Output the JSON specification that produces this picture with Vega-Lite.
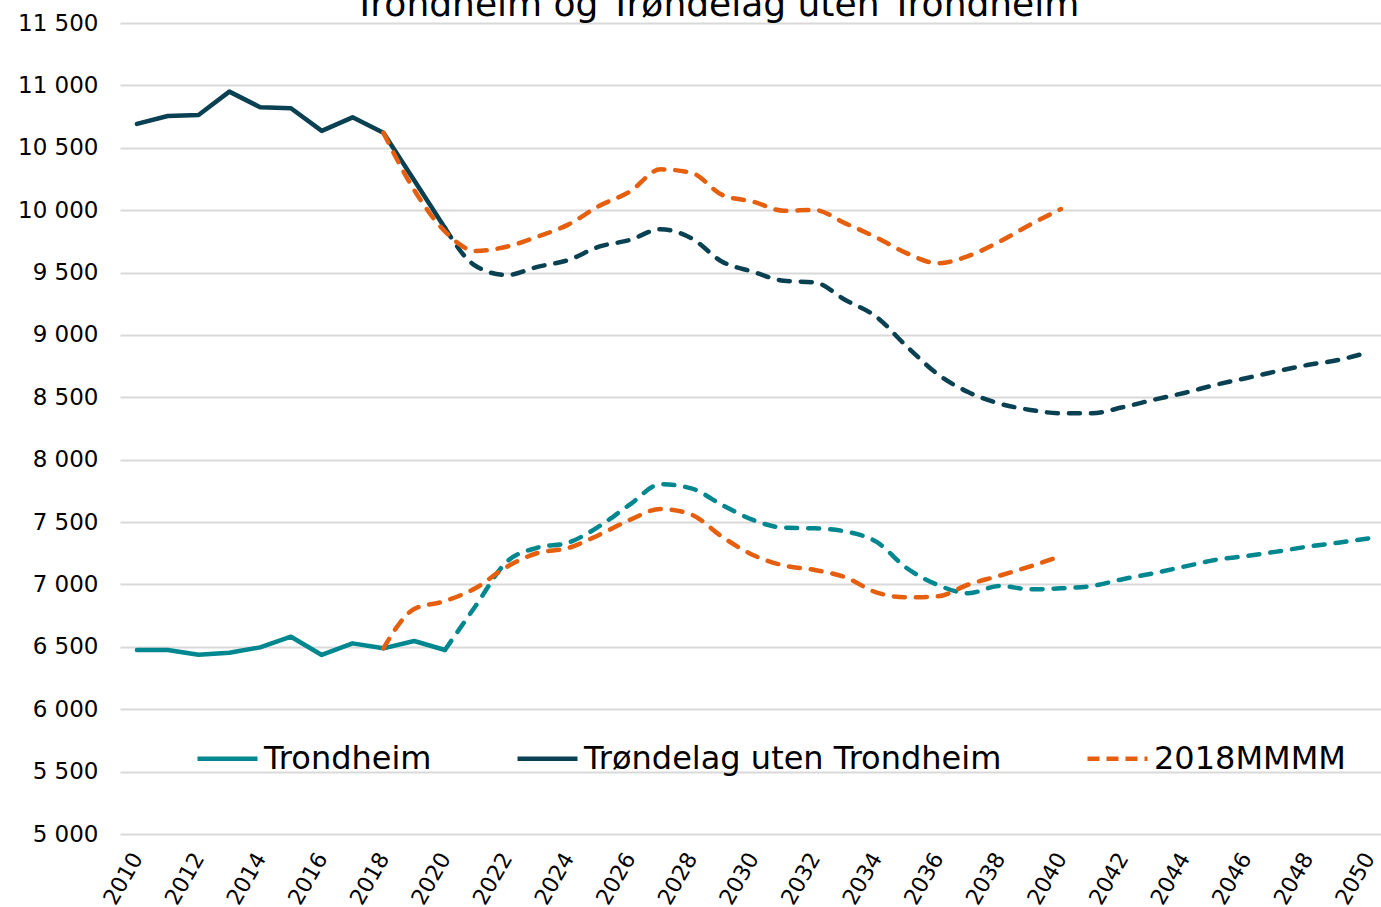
{
  "$schema": "https://vega.github.io/schema/vega-lite/v6.json",
  "width": 1261,
  "height": 811,
  "autosize": {"type": "none"},
  "padding": {"left": 120, "top": 23, "right": 0, "bottom": 73},
  "background": "white",
  "title": {"text": "Trondheim og Trøndelag uten Trondheim", "font": "DejaVu Sans", "fontSize": 36, "fontWeight": "normal", "color": "#000000", "anchor": "middle", "dx": -34, "offset": -40, "baseline": "alphabetic"},
  "config": {"view": {"stroke": null}},
  "datasets": {
    "rows": [
      {"year": 2010, "value": 6475, "serie": "Trondheim", "line": "T-hist", "type": "hist"},
      {"year": 2011, "value": 6475, "serie": "Trondheim", "line": "T-hist", "type": "hist"},
      {"year": 2012, "value": 6437, "serie": "Trondheim", "line": "T-hist", "type": "hist"},
      {"year": 2013, "value": 6453, "serie": "Trondheim", "line": "T-hist", "type": "hist"},
      {"year": 2014, "value": 6496, "serie": "Trondheim", "line": "T-hist", "type": "hist"},
      {"year": 2015, "value": 6581, "serie": "Trondheim", "line": "T-hist", "type": "hist"},
      {"year": 2016, "value": 6435, "serie": "Trondheim", "line": "T-hist", "type": "hist"},
      {"year": 2017, "value": 6528, "serie": "Trondheim", "line": "T-hist", "type": "hist"},
      {"year": 2018, "value": 6488, "serie": "Trondheim", "line": "T-hist", "type": "hist"},
      {"year": 2019, "value": 6547, "serie": "Trondheim", "line": "T-hist", "type": "hist"},
      {"year": 2020, "value": 6475, "serie": "Trondheim", "line": "T-hist", "type": "hist"},
      {"year": 2020, "value": 6475, "serie": "Trondheim", "line": "T-proj", "type": "proj"},
      {"year": 2021, "value": 6830, "serie": "Trondheim", "line": "T-proj", "type": "proj"},
      {"year": 2022, "value": 7180, "serie": "Trondheim", "line": "T-proj", "type": "proj"},
      {"year": 2023, "value": 7295, "serie": "Trondheim", "line": "T-proj", "type": "proj"},
      {"year": 2024, "value": 7335, "serie": "Trondheim", "line": "T-proj", "type": "proj"},
      {"year": 2025, "value": 7465, "serie": "Trondheim", "line": "T-proj", "type": "proj"},
      {"year": 2026, "value": 7640, "serie": "Trondheim", "line": "T-proj", "type": "proj"},
      {"year": 2027, "value": 7803, "serie": "Trondheim", "line": "T-proj", "type": "proj"},
      {"year": 2028, "value": 7770, "serie": "Trondheim", "line": "T-proj", "type": "proj"},
      {"year": 2029, "value": 7637, "serie": "Trondheim", "line": "T-proj", "type": "proj"},
      {"year": 2030, "value": 7517, "serie": "Trondheim", "line": "T-proj", "type": "proj"},
      {"year": 2031, "value": 7455, "serie": "Trondheim", "line": "T-proj", "type": "proj"},
      {"year": 2032, "value": 7450, "serie": "Trondheim", "line": "T-proj", "type": "proj"},
      {"year": 2033, "value": 7425, "serie": "Trondheim", "line": "T-proj", "type": "proj"},
      {"year": 2034, "value": 7343, "serie": "Trondheim", "line": "T-proj", "type": "proj"},
      {"year": 2035, "value": 7130, "serie": "Trondheim", "line": "T-proj", "type": "proj"},
      {"year": 2036, "value": 6996, "serie": "Trondheim", "line": "T-proj", "type": "proj"},
      {"year": 2037, "value": 6930, "serie": "Trondheim", "line": "T-proj", "type": "proj"},
      {"year": 2038, "value": 6988, "serie": "Trondheim", "line": "T-proj", "type": "proj"},
      {"year": 2039, "value": 6961, "serie": "Trondheim", "line": "T-proj", "type": "proj"},
      {"year": 2040, "value": 6969, "serie": "Trondheim", "line": "T-proj", "type": "proj"},
      {"year": 2041, "value": 6988, "serie": "Trondheim", "line": "T-proj", "type": "proj"},
      {"year": 2042, "value": 7042, "serie": "Trondheim", "line": "T-proj", "type": "proj"},
      {"year": 2043, "value": 7090, "serie": "Trondheim", "line": "T-proj", "type": "proj"},
      {"year": 2044, "value": 7143, "serie": "Trondheim", "line": "T-proj", "type": "proj"},
      {"year": 2045, "value": 7196, "serie": "Trondheim", "line": "T-proj", "type": "proj"},
      {"year": 2046, "value": 7228, "serie": "Trondheim", "line": "T-proj", "type": "proj"},
      {"year": 2047, "value": 7263, "serie": "Trondheim", "line": "T-proj", "type": "proj"},
      {"year": 2048, "value": 7303, "serie": "Trondheim", "line": "T-proj", "type": "proj"},
      {"year": 2049, "value": 7335, "serie": "Trondheim", "line": "T-proj", "type": "proj"},
      {"year": 2050, "value": 7370, "serie": "Trondheim", "line": "T-proj", "type": "proj"},
      {"year": 2010, "value": 10691, "serie": "Trøndelag uten Trondheim", "line": "R-hist", "type": "hist"},
      {"year": 2011, "value": 10755, "serie": "Trøndelag uten Trondheim", "line": "R-hist", "type": "hist"},
      {"year": 2012, "value": 10763, "serie": "Trøndelag uten Trondheim", "line": "R-hist", "type": "hist"},
      {"year": 2013, "value": 10950, "serie": "Trøndelag uten Trondheim", "line": "R-hist", "type": "hist"},
      {"year": 2014, "value": 10825, "serie": "Trøndelag uten Trondheim", "line": "R-hist", "type": "hist"},
      {"year": 2015, "value": 10817, "serie": "Trøndelag uten Trondheim", "line": "R-hist", "type": "hist"},
      {"year": 2016, "value": 10635, "serie": "Trøndelag uten Trondheim", "line": "R-hist", "type": "hist"},
      {"year": 2017, "value": 10744, "serie": "Trøndelag uten Trondheim", "line": "R-hist", "type": "hist"},
      {"year": 2018, "value": 10621, "serie": "Trøndelag uten Trondheim", "line": "R-hist", "type": "hist"},
      {"year": 2019, "value": 10240, "serie": "Trøndelag uten Trondheim", "line": "R-hist", "type": "hist"},
      {"year": 2020, "value": 9857, "serie": "Trøndelag uten Trondheim", "line": "R-hist", "type": "hist"},
      {"year": 2020, "value": 9857, "serie": "Trøndelag uten Trondheim", "line": "R-proj", "type": "proj"},
      {"year": 2021, "value": 9552, "serie": "Trøndelag uten Trondheim", "line": "R-proj", "type": "proj"},
      {"year": 2022, "value": 9480, "serie": "Trøndelag uten Trondheim", "line": "R-proj", "type": "proj"},
      {"year": 2023, "value": 9545, "serie": "Trøndelag uten Trondheim", "line": "R-proj", "type": "proj"},
      {"year": 2024, "value": 9600, "serie": "Trøndelag uten Trondheim", "line": "R-proj", "type": "proj"},
      {"year": 2025, "value": 9707, "serie": "Trøndelag uten Trondheim", "line": "R-proj", "type": "proj"},
      {"year": 2026, "value": 9761, "serie": "Trøndelag uten Trondheim", "line": "R-proj", "type": "proj"},
      {"year": 2027, "value": 9847, "serie": "Trøndelag uten Trondheim", "line": "R-proj", "type": "proj"},
      {"year": 2028, "value": 9775, "serie": "Trøndelag uten Trondheim", "line": "R-proj", "type": "proj"},
      {"year": 2029, "value": 9587, "serie": "Trøndelag uten Trondheim", "line": "R-proj", "type": "proj"},
      {"year": 2030, "value": 9506, "serie": "Trøndelag uten Trondheim", "line": "R-proj", "type": "proj"},
      {"year": 2031, "value": 9434, "serie": "Trøndelag uten Trondheim", "line": "R-proj", "type": "proj"},
      {"year": 2032, "value": 9421, "serie": "Trøndelag uten Trondheim", "line": "R-proj", "type": "proj"},
      {"year": 2033, "value": 9280, "serie": "Trøndelag uten Trondheim", "line": "R-proj", "type": "proj"},
      {"year": 2034, "value": 9146, "serie": "Trøndelag uten Trondheim", "line": "R-proj", "type": "proj"},
      {"year": 2035, "value": 8906, "serie": "Trøndelag uten Trondheim", "line": "R-proj", "type": "proj"},
      {"year": 2036, "value": 8685, "serie": "Trøndelag uten Trondheim", "line": "R-proj", "type": "proj"},
      {"year": 2037, "value": 8540, "serie": "Trøndelag uten Trondheim", "line": "R-proj", "type": "proj"},
      {"year": 2038, "value": 8450, "serie": "Trøndelag uten Trondheim", "line": "R-proj", "type": "proj"},
      {"year": 2039, "value": 8399, "serie": "Trøndelag uten Trondheim", "line": "R-proj", "type": "proj"},
      {"year": 2040, "value": 8372, "serie": "Trøndelag uten Trondheim", "line": "R-proj", "type": "proj"},
      {"year": 2041, "value": 8372, "serie": "Trøndelag uten Trondheim", "line": "R-proj", "type": "proj"},
      {"year": 2042, "value": 8420, "serie": "Trøndelag uten Trondheim", "line": "R-proj", "type": "proj"},
      {"year": 2043, "value": 8480, "serie": "Trøndelag uten Trondheim", "line": "R-proj", "type": "proj"},
      {"year": 2044, "value": 8535, "serie": "Trøndelag uten Trondheim", "line": "R-proj", "type": "proj"},
      {"year": 2045, "value": 8599, "serie": "Trøndelag uten Trondheim", "line": "R-proj", "type": "proj"},
      {"year": 2046, "value": 8653, "serie": "Trøndelag uten Trondheim", "line": "R-proj", "type": "proj"},
      {"year": 2047, "value": 8708, "serie": "Trøndelag uten Trondheim", "line": "R-proj", "type": "proj"},
      {"year": 2048, "value": 8759, "serie": "Trøndelag uten Trondheim", "line": "R-proj", "type": "proj"},
      {"year": 2049, "value": 8799, "serie": "Trøndelag uten Trondheim", "line": "R-proj", "type": "proj"},
      {"year": 2050, "value": 8862, "serie": "Trøndelag uten Trondheim", "line": "R-proj", "type": "proj"},
      {"year": 2018, "value": 10621, "serie": "2018MMMM", "line": "M-R", "type": "proj"},
      {"year": 2019, "value": 10162, "serie": "2018MMMM", "line": "M-R", "type": "proj"},
      {"year": 2020, "value": 9830, "serie": "2018MMMM", "line": "M-R", "type": "proj"},
      {"year": 2021, "value": 9673, "serie": "2018MMMM", "line": "M-R", "type": "proj"},
      {"year": 2022, "value": 9707, "serie": "2018MMMM", "line": "M-R", "type": "proj"},
      {"year": 2023, "value": 9787, "serie": "2018MMMM", "line": "M-R", "type": "proj"},
      {"year": 2024, "value": 9884, "serie": "2018MMMM", "line": "M-R", "type": "proj"},
      {"year": 2025, "value": 10033, "serie": "2018MMMM", "line": "M-R", "type": "proj"},
      {"year": 2026, "value": 10148, "serie": "2018MMMM", "line": "M-R", "type": "proj"},
      {"year": 2027, "value": 10327, "serie": "2018MMMM", "line": "M-R", "type": "proj"},
      {"year": 2028, "value": 10300, "serie": "2018MMMM", "line": "M-R", "type": "proj"},
      {"year": 2029, "value": 10122, "serie": "2018MMMM", "line": "M-R", "type": "proj"},
      {"year": 2030, "value": 10068, "serie": "2018MMMM", "line": "M-R", "type": "proj"},
      {"year": 2031, "value": 9996, "serie": "2018MMMM", "line": "M-R", "type": "proj"},
      {"year": 2032, "value": 10001, "serie": "2018MMMM", "line": "M-R", "type": "proj"},
      {"year": 2033, "value": 9894, "serie": "2018MMMM", "line": "M-R", "type": "proj"},
      {"year": 2034, "value": 9782, "serie": "2018MMMM", "line": "M-R", "type": "proj"},
      {"year": 2035, "value": 9654, "serie": "2018MMMM", "line": "M-R", "type": "proj"},
      {"year": 2036, "value": 9574, "serie": "2018MMMM", "line": "M-R", "type": "proj"},
      {"year": 2037, "value": 9633, "serie": "2018MMMM", "line": "M-R", "type": "proj"},
      {"year": 2038, "value": 9747, "serie": "2018MMMM", "line": "M-R", "type": "proj"},
      {"year": 2039, "value": 9884, "serie": "2018MMMM", "line": "M-R", "type": "proj"},
      {"year": 2040, "value": 10009, "serie": "2018MMMM", "line": "M-R", "type": "proj"},
      {"year": 2018, "value": 6488, "serie": "2018MMMM", "line": "M-T", "type": "proj"},
      {"year": 2019, "value": 6803, "serie": "2018MMMM", "line": "M-T", "type": "proj"},
      {"year": 2020, "value": 6867, "serie": "2018MMMM", "line": "M-T", "type": "proj"},
      {"year": 2021, "value": 6972, "serie": "2018MMMM", "line": "M-T", "type": "proj"},
      {"year": 2022, "value": 7140, "serie": "2018MMMM", "line": "M-T", "type": "proj"},
      {"year": 2023, "value": 7252, "serie": "2018MMMM", "line": "M-T", "type": "proj"},
      {"year": 2024, "value": 7292, "serie": "2018MMMM", "line": "M-T", "type": "proj"},
      {"year": 2025, "value": 7397, "serie": "2018MMMM", "line": "M-T", "type": "proj"},
      {"year": 2026, "value": 7517, "serie": "2018MMMM", "line": "M-T", "type": "proj"},
      {"year": 2027, "value": 7605, "serie": "2018MMMM", "line": "M-T", "type": "proj"},
      {"year": 2028, "value": 7560, "serie": "2018MMMM", "line": "M-T", "type": "proj"},
      {"year": 2029, "value": 7382, "serie": "2018MMMM", "line": "M-T", "type": "proj"},
      {"year": 2030, "value": 7236, "serie": "2018MMMM", "line": "M-T", "type": "proj"},
      {"year": 2031, "value": 7152, "serie": "2018MMMM", "line": "M-T", "type": "proj"},
      {"year": 2032, "value": 7116, "serie": "2018MMMM", "line": "M-T", "type": "proj"},
      {"year": 2033, "value": 7057, "serie": "2018MMMM", "line": "M-T", "type": "proj"},
      {"year": 2034, "value": 6937, "serie": "2018MMMM", "line": "M-T", "type": "proj"},
      {"year": 2035, "value": 6897, "serie": "2018MMMM", "line": "M-T", "type": "proj"},
      {"year": 2036, "value": 6905, "serie": "2018MMMM", "line": "M-T", "type": "proj"},
      {"year": 2037, "value": 7000, "serie": "2018MMMM", "line": "M-T", "type": "proj"},
      {"year": 2038, "value": 7070, "serie": "2018MMMM", "line": "M-T", "type": "proj"},
      {"year": 2039, "value": 7145, "serie": "2018MMMM", "line": "M-T", "type": "proj"},
      {"year": 2040, "value": 7228, "serie": "2018MMMM", "line": "M-T", "type": "proj"}
    ]
  },
  "data": {"name": "rows"},
  "encoding": {
    "x": {
      "field": "year", "type": "quantitative",
      "scale": {"domain": [2009.45, 2050.39], "nice": false, "zero": false},
      "axis": {
        "values": [2010, 2012, 2014, 2016, 2018, 2020, 2022, 2024, 2026, 2028, 2030, 2032, 2034, 2036, 2038, 2040, 2042, 2044, 2046, 2048, 2050],
        "labelExpr": "format(datum.value, 'd')", "labelAngle": -60, "labelAlign": "right", "labelBaseline": "middle",
        "grid": false, "domain": false, "ticks": false, "title": null,
        "labelFont": "DejaVu Sans", "labelFontSize": 22, "labelColor": "#000000", "labelPadding": 20, "labelOverlap": false
      }
    },
    "y": {
      "field": "value", "type": "quantitative",
      "scale": {"domain": [5000, 11500], "nice": false, "zero": false},
      "axis": {
        "values": [5000, 5500, 6000, 6500, 7000, 7500, 8000, 8500, 9000, 9500, 10000, 10500, 11000, 11500],
        "labelExpr": "replace(format(datum.value, ',.0f'), ',', ' ')",
        "grid": true, "gridColor": "#d9d9d9", "gridWidth": 2,
        "domain": false, "ticks": false, "title": null,
        "labelFont": "DejaVu Sans", "labelFontSize": 23, "labelColor": "#000000", "labelPadding": 22, "labelOverlap": false
      }
    },
    "color": {
      "field": "serie", "type": "nominal",
      "scale": {"domain": ["Trondheim", "Trøndelag uten Trondheim", "2018MMMM"], "range": ["#00878F", "#0A4152", "#E55F0E"]},
      "legend": {
        "title": null, "orient": "none", "legendX": 75, "legendY": 703, "direction": "horizontal",
        "columnPadding": 76, "padding": 0, "labelFont": "DejaVu Sans", "labelFontSize": 32, "labelColor": "#000000",
        "labelLimit": 800, "labelOffset": 4, "symbolType": "stroke", "symbolSize": 3600, "symbolStrokeWidth": 4.5,
        "encode": {"symbols": {"update": {"strokeDash": {"signal": "datum.value === '2018MMMM' ? [12, 7] : [1, 0]"}}}}
      }
    },
    "detail": {"field": "line", "type": "nominal"}
  },
  "layer": [
    {"transform": [{"filter": "datum.type === 'hist'"}], "mark": {"type": "line", "strokeWidth": 4.5, "strokeCap": "round", "strokeJoin": "round"}},
    {"transform": [{"filter": "datum.type === 'proj'"}], "mark": {"type": "line", "strokeWidth": 4.5, "strokeCap": "round", "strokeJoin": "round", "interpolate": "monotone", "strokeDash": [11, 11]}}
  ]
}
